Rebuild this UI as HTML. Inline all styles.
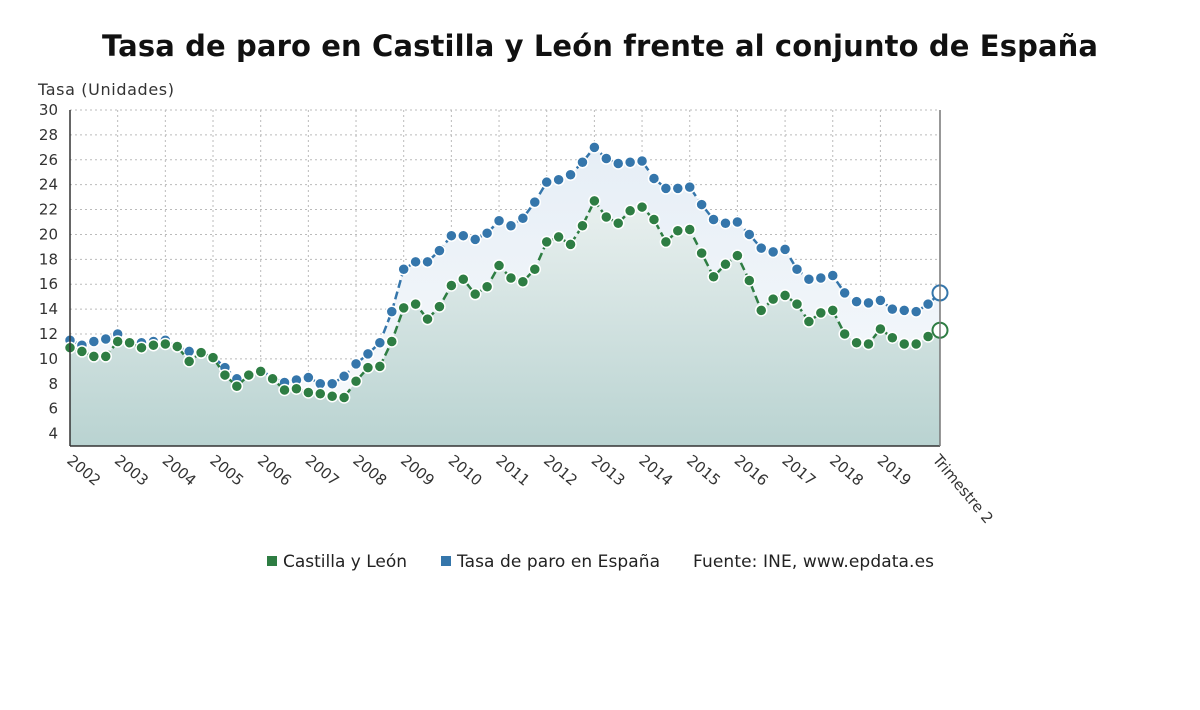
<!DOCTYPE html>
<html><head><meta charset="utf-8">
<style>
body{margin:0;background:#fff;font-family:"Liberation Sans","DejaVu Sans",sans-serif;}
svg text{font-family:"DejaVu Sans","Liberation Sans",sans-serif;}
</style></head>
<body>
<svg width="1200" height="705" viewBox="0 0 1200 705">
<defs>
<linearGradient id="gS" x1="0" y1="0" x2="0" y2="1"><stop offset="0" stop-color="#e6eef6"/><stop offset="1" stop-color="#f8fafc"/></linearGradient>
<linearGradient id="gC" x1="0" y1="0" x2="0" y2="1"><stop offset="0" stop-color="#e9f0ef"/><stop offset="1" stop-color="#b9d3d1"/></linearGradient>
</defs>
<text x="600" y="56" text-anchor="middle" font-size="29" font-weight="bold" fill="#111" textLength="996">Tasa de paro en Castilla y León frente al conjunto de España</text>
<text x="38" y="95" font-size="16" fill="#333" textLength="136">Tasa (Unidades)</text>
<g id="grid"></g>
<g id="areas"></g>
<g id="lines"></g>
<g id="axes"></g>
<g>
<rect x="267" y="556" width="10" height="10" fill="#2e7d43"/>
<text x="283" y="567" font-size="17" fill="#222" textLength="124">Castilla y León</text>
<rect x="441" y="556" width="10" height="10" fill="#3576ab"/>
<text x="457" y="567" font-size="17" fill="#222" textLength="203">Tasa de paro en España</text>
<text x="693" y="567" font-size="17" fill="#222" textLength="241">Fuente: INE, www.epdata.es</text>
</g>
</svg>
<script>
const years=["2002","2003","2004","2005","2006","2007","2008","2009","2010","2011","2012","2013","2014","2015","2016","2017","2018","2019"];
const yTicks=[4,6,8,10,12,14,16,18,20,22,24,26,28,30];
const spain=[11.5,11.1,11.4,11.6, 12.0,11.3,11.3,11.4, 11.5,11.0,10.6,10.5, 10.2,9.3,8.4,8.7, 9.1,8.5,8.1,8.3, 8.5,8.0,8.0,8.6, 9.6,10.4,11.3,13.8, 17.2,17.8,17.8,18.7, 19.9,19.9,19.6,20.1, 21.1,20.7,21.3,22.6, 24.2,24.4,24.8,25.8, 27.0,26.1,25.7,25.8, 25.9,24.5,23.7,23.7, 23.8,22.4,21.2,20.9, 21.0,20.0,18.9,18.6, 18.8,17.2,16.4,16.5, 16.7,15.3,14.6,14.5, 14.7,14.0,13.9,13.8, 14.4,15.3];
const cyl=[10.9,10.6,10.2,10.2, 11.4,11.3,10.9,11.1, 11.2,11.0,9.8,10.5, 10.1,8.7,7.8,8.7, 9.0,8.4,7.5,7.6, 7.3,7.2,7.0,6.9, 8.2,9.3,9.4,11.4, 14.1,14.4,13.2,14.2, 15.9,16.4,15.2,15.8, 17.5,16.5,16.2,17.2, 19.4,19.8,19.2,20.7, 22.7,21.4,20.9,21.9, 22.2,21.2,19.4,20.3, 20.4,18.5,16.6,17.6, 18.3,16.3,13.9,14.8, 15.1,14.4,13.0,13.7, 13.9,12.0,11.3,11.2, 12.4,11.7,11.2,11.2, 11.8,12.3];
const X0=70,X1=940,Y0=446,Ymin=3,Ymax=30,YT=110;
const n=spain.length;
const x=i=>X0+i*(X1-X0)/(n-1);
const y=v=>YT+(Ymax-v)*(Y0-YT)/(Ymax-Ymin);
const NS="http://www.w3.org/2000/svg";
function mk(t,a,p){const e=document.createElementNS(NS,t);for(const k in a)e.setAttribute(k,a[k]);p.appendChild(e);return e;}
const grid=document.getElementById('grid'),areas=document.getElementById('areas'),lines=document.getElementById('lines'),axes=document.getElementById('axes');
yTicks.forEach(t=>{const l=mk('line',{x1:X0,x2:X1,y1:y(t),y2:y(t),stroke:'#bbb','stroke-dasharray':'2,3'},grid);


const tx=mk('text',{x:58,y:y(t)+5,'text-anchor':'end','font-size':15,fill:'#333'},axes);tx.textContent=t;

});
years.forEach((yr,k)=>{const xx=x(k*4);const l=mk('line',{x1:xx,x2:xx,y1:YT,y2:Y0,stroke:'#bbb','stroke-dasharray':'2,3'},grid);


const tx=mk('text',{x:xx-4,y:Y0+16,'font-size':15,fill:'#333',transform:`rotate(40 ${xx-4} ${Y0+16})`},axes);tx.textContent=yr;

});
const lt=mk('text',{x:X1-8,y:Y0+14,'font-size':15,fill:'#333',transform:`rotate(50 ${X1-8} ${Y0+14})`},axes);lt.textContent='Trimestre 2';


const ax=mk('line',{x1:X0,x2:X1,y1:Y0,y2:Y0,stroke:'#333','stroke-width':1.5},axes);


const ay=mk('line',{x1:X0,x2:X0,y1:YT,y2:Y0,stroke:'#333','stroke-width':1.5},axes);


const ar=mk('line',{x1:X1,x2:X1,y1:YT,y2:Y0,stroke:'#777','stroke-width':1.5},axes);


function series(arr,col,fill,name){
 const pts=arr.map((v,i)=>x(i)+','+y(v));
 const a=mk('path',{d:'M'+X0+','+Y0+' L'+pts.join(' L')+' L'+X1+','+Y0+' Z',fill:fill},areas);
 
 
 const l=mk('polyline',{points:pts.join(' '),fill:'none',stroke:col,'stroke-width':2.5,'stroke-dasharray':'8,4'},lines);
 
 
 arr.forEach((v,i)=>{const last=i===n-1;const c=mk('circle',{cx:x(i),cy:y(v),r:last?7.5:5.5,fill:last?'#fff':col,stroke:last?col:'#fff','stroke-width':last?2:1.5},lines);
 
 });
}
series(spain,'#3576ab','url(#gS)','espana');
series(cyl,'#2e7d43','url(#gC)','castilla');
</script>
</body></html>
